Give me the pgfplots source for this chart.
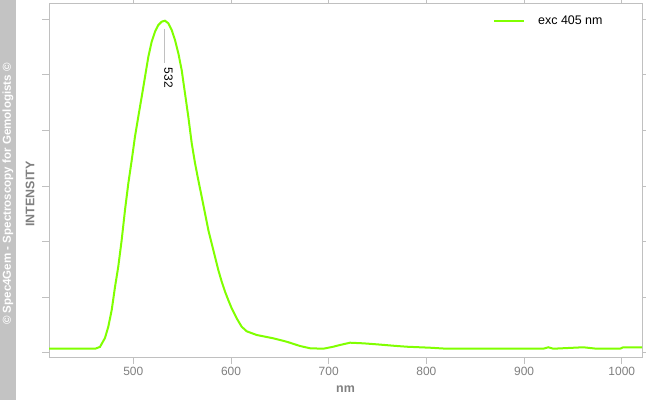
\documentclass[border=0pt]{standalone}
\usepackage{pgfplots}
\pgfplotsset{compat=1.18}
\usepackage{fontspec}
\setmainfont{Liberation Sans}
\definecolor{curve}{RGB}{128,255,0}
\definecolor{framegray}{RGB}{192,192,192}
\definecolor{labelgray}{RGB}{128,128,128}
\definecolor{band}{RGB}{195,195,195}
\begin{document}
\begin{tikzpicture}
\fill[white] (0,0) rectangle (646bp,400bp);
\useasboundingbox (0,0) rectangle (646bp,400bp);
\fill[band] (0,0) rectangle (16bp,400bp);
\node[rotate=90, text=white, font=\fontsize{11.6}{13}\selectfont\bfseries, inner sep=0pt]
  at (8bp,206bp) {© Spec4Gem - Spectroscopy for Gemologists ©};
\node[rotate=90, anchor=base, text=labelgray, font=\fontsize{12.5}{14}\selectfont\bfseries, inner sep=0pt]
  at (34.3bp,206bp) {INTENSITY};
\node[anchor=base, text=labelgray, font=\fontsize{12.5}{14}\selectfont\bfseries, inner sep=0pt]
  at (345.5bp,7.3bp) {nm};
\begin{axis}[
  at={(49bp,43bp)}, anchor=south west,
  scale only axis, width=593bp, height=353bp,
  xmin=413.7, xmax=1020.7, ymin=-0.072, ymax=6.277,
  xtick={500,600,...,1000}, ytick={0,...,6}, yticklabels={},
  tick align=outside, major tick length=7bp,
  tick style={framegray, line width=1bp},
  axis line style={framegray, line width=1bp},
  every tick label/.append style={text=labelgray, font=\fontsize{12}{14}\selectfont},
  /pgf/number format/assume math mode=true,
  /pgf/number format/1000 sep={},
  legend style={draw=none, fill=none, at={(rel axis cs:0.7487,0.952)}, anchor=west,
    inner sep=0pt, nodes={inner sep=0pt}, font=\fontsize{12.5}{14}\selectfont},
  legend image code/.code={\draw[#1] (0bp,0bp) -- (30bp,0bp); \path (43bp,0bp);},
]
\addplot[curve, line width=2bp] coordinates {
(413.7,0.077) (461,0.077) (465.9,0.11) (471.0,0.27) (474.4,0.473) (477.9,0.773)
(481.3,1.192) (484.6,1.552) (488.1,2.032) (491.5,2.572) (494.9,3.052) (498.4,3.471)
(501.7,3.890) (505.1,4.250) (508.6,4.610) (512.0,4.969) (515.4,5.329) (518.8,5.599)
(522.2,5.779) (525.6,5.899) (529.1,5.959) (532.4,5.977) (535.8,5.930) (539.3,5.809)
(542.7,5.629) (546.1,5.390) (549.5,5.090) (552.9,4.671) (556.3,4.250) (559.8,3.772)
(563.2,3.412) (566.5,3.112) (570.0,2.811) (573.4,2.513) (576.8,2.212) (580.2,1.973)
(583.6,1.732) (587.0,1.493) (590.5,1.282) (593.9,1.103) (597.2,0.953) (600.7,0.804)
(605.8,0.624) (610.9,0.473) (616.1,0.39) (626.3,0.324) (643.3,0.264) (657.0,0.203)
(670.6,0.126) (680.9,0.085) (694.5,0.077) (704.7,0.113) (711.6,0.144) (721.8,0.185)
(735.4,0.174) (749.1,0.156) (766.1,0.131) (779.8,0.113) (803.7,0.095) (820.8,0.077)
(919.7,0.077) (924.8,0.103) (929.9,0.077) (960.6,0.103) (974.3,0.077) (998.2,0.077)
(1001.5,0.103) (1020.7,0.103)
};
\addlegendentry{exc 405 nm}
\draw[framegray, line width=1bp] (axis cs:531.9,5.83) -- (axis cs:531.9,5.22);
\node[rotate=-90, anchor=base west, inner sep=0pt, font=\fontsize{12}{14}\selectfont]
  at (axis cs:531.9,5.13) {532};
\end{axis}
\end{tikzpicture}
\end{document}
